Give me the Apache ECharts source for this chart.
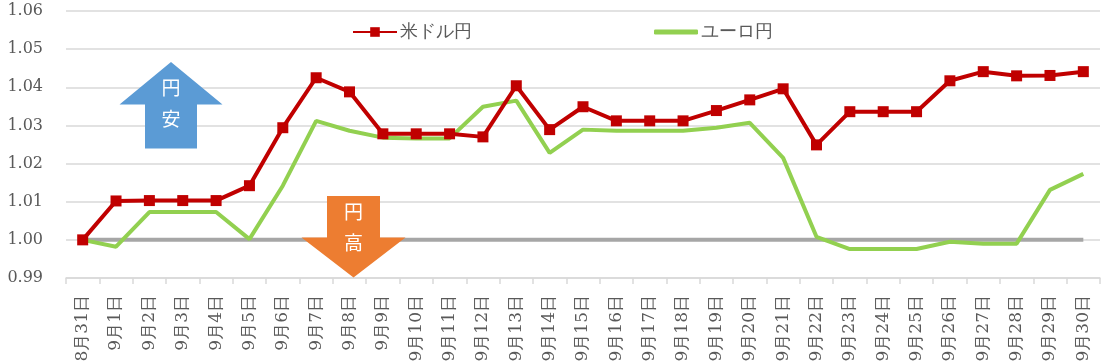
<!DOCTYPE html>
<html>
<head>
<meta charset="utf-8">
<script src="https://cdn.jsdelivr.net/npm/echarts@6/dist/echarts.min.js"></script>
<style>
html,body{margin:0;padding:0;background:#fff;}
#c{width:1106px;height:362px;}
</style>
</head>
<body>
<div id="c"></div>
<script>
const categories = ['8月31日','9月1日','9月2日','9月3日','9月4日','9月5日','9月6日','9月7日','9月8日','9月9日','9月10日','9月11日','9月12日','9月13日','9月14日','9月15日','9月16日','9月17日','9月18日','9月19日','9月20日','9月21日','9月22日','9月23日','9月24日','9月25日','9月26日','9月27日','9月28日','9月29日','9月30日'];
const usdJpy = [1.000,1.0102,1.0103,1.0103,1.0103,1.0142,1.0294,1.0425,1.0388,1.0278,1.0278,1.0278,1.0270,1.0404,1.0289,1.0349,1.0312,1.0312,1.0312,1.0339,1.0367,1.0396,1.0249,1.0336,1.0336,1.0336,1.0417,1.0441,1.0430,1.0431,1.0441];
const eurJpy = [1.000,0.9982,1.0073,1.0073,1.0073,1.0002,1.0142,1.0312,1.0286,1.0268,1.0266,1.0266,1.0349,1.0365,1.0228,1.0289,1.0286,1.0286,1.0286,1.0294,1.0307,1.0215,1.0008,0.9976,0.9976,0.9976,0.9995,0.9990,0.9990,1.0131,1.0173];
const baseRatio = [1,1,1,1,1,1,1,1,1,1,1,1,1,1,1,1,1,1,1,1,1,1,1,1,1,1,1,1,1,1,1];
const yTicks = {min: 0.99, max: 1.06, step: 0.01};
const seriesNames = ['米ドル円', 'ユーロ円'];
const arrowUpText = '円\n安';
const arrowDownText = '円\n高';

const serifFont = "DejaVu Serif";
const chart = echarts.init(document.getElementById('c'), null, {renderer: 'canvas'});
chart.setOption({
  animation: false,
  backgroundColor: '#ffffff',
  grid: {left: 66, right: 6, top: 11, bottom: 84, containLabel: false, outerBoundsMode: 'none'},
  legend: [
    {data: [seriesNames[0]], left: 347, top: 18, itemWidth: 44, itemHeight: 12, itemGap: 0,
     textStyle: {fontFamily: serifFont, fontSize: 18, color: '#595959', padding: [0,0,0,-2]}},
    {data: [{name: seriesNames[1], icon: 'roundRect'}], left: 649, top: 18, itemWidth: 44, itemHeight: 5, itemGap: 0,
     textStyle: {fontFamily: serifFont, fontSize: 18, color: '#595959', padding: [0,0,0,-2]}}
  ],
  xAxis: {
    type: 'category',
    data: categories,
    boundaryGap: true,
    axisLine: {show: true, lineStyle: {color: '#d9d9d9', width: 1.5}},
    axisTick: {show: true, length: 6, lineStyle: {color: '#d9d9d9', width: 1.5}},
    axisLabel: {rotate: 90, interval: 0, margin: 17, fontFamily: serifFont, fontSize: 17, color: '#595959'}
  },
  yAxis: {
    type: 'value',
    min: yTicks.min, max: yTicks.max, interval: yTicks.step,
    axisLine: {show: false},
    axisTick: {show: false},
    splitLine: {show: true, lineStyle: {color: '#d9d9d9', width: 1.5}},
    axisLabel: {margin: 23, fontFamily: serifFont, fontSize: 16, color: '#595959',
      formatter: v => v.toFixed(2)}
  },
  series: [
    {name: 'base', type: 'line', data: baseRatio, symbol: 'none', z: 1,
     lineStyle: {color: '#a6a6a6', width: 4}, silent: true},
    {name: seriesNames[1], type: 'line', data: eurJpy, symbol: 'none', z: 2,
     color: '#92d050', lineStyle: {color: '#92d050', width: 4}},
    {name: seriesNames[0], type: 'line', data: usdJpy, symbol: 'rect', symbolSize: 11, z: 3,
     color: '#c00000', itemStyle: {color: '#c00000'}, lineStyle: {color: '#c00000', width: 4}}
  ],
  graphic: [
    {type: 'polygon', z: 10, shape: {points: [[171,62],[222.5,104.5],[197,104.5],[197,148.5],[145,148.5],[145,104.5],[119.5,104.5]]},
     style: {fill: '#5b9bd5'}},
    {type: 'text', z: 11, x: 171, y: 103, style: {text: arrowUpText, fill: '#ffffff', font: "19px 'Noto Sans CJK JP'", align: 'center', verticalAlign: 'middle', lineHeight: 31}},
    {type: 'polygon', z: 10, shape: {points: [[327,196],[380,196],[380,237.5],[405.5,237.5],[353.5,277.5],[301.5,237.5],[327,237.5]]},
     style: {fill: '#ed7d31'}},
    {type: 'text', z: 11, x: 353.5, y: 227, style: {text: arrowDownText, fill: '#ffffff', font: "19px 'Noto Sans CJK JP'", align: 'center', verticalAlign: 'middle', lineHeight: 31}}
  ]
});
</script>
</body>
</html>
